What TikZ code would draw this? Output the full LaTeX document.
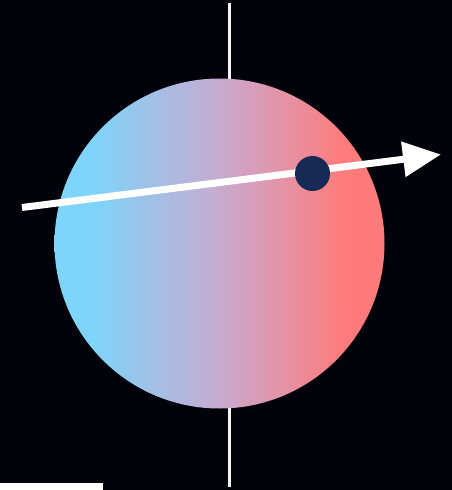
\documentclass[tikz,border=0pt]{standalone}
\usetikzlibrary{arrows.meta}
\definecolor{bg}{HTML}{02030A}
\definecolor{cblue}{HTML}{7FD4FA}
\definecolor{cred}{HTML}{FF7B7B}
\definecolor{cmid}{HTML}{C8AAD0}
\definecolor{dotc}{HTML}{172A55}
\pgfdeclarehorizontalshading{ballshade}{100bp}{color(0bp)=(cblue); color(25bp)=(cblue); color(31bp)=(cblue); color(50bp)=(cmid); color(69bp)=(cred); color(75bp)=(cred); color(100bp)=(cred)}
\tikzset{
  axisline/.style={draw=white!92!gray, line width=2.4pt},
  ball/.style={circle, inner sep=0pt, minimum size=330pt, shading=ballshade, draw=none},
  dotnode/.style={circle, inner sep=0pt, minimum size=35pt, fill=dotc, draw=none},
  vec/.style={draw=white, line width=7pt, -{Triangle[length=38pt,width=34pt]}}
}
\begin{document}
\begin{tikzpicture}[x=1pt,y=-1pt]
\fill[bg] (0,0) rectangle (452,490);
\useasboundingbox (0,0) rectangle (452,490);
\coordinate (ltop) at (229.5,3);
\coordinate (lbot) at (229.5,487);
\draw[axisline] (ltop) -- (lbot);
\node[ball] (sphere) at (219.5,243.5) {};
\coordinate (vstart) at (22,207.5);
\coordinate (vend) at (441,154.5);
\draw[vec] (vstart) -- (vend);
\node[dotnode] (pt) at (312.5,173.5) {};
\fill[white] (0,483) rectangle (103,490);
\end{tikzpicture}
\end{document}
